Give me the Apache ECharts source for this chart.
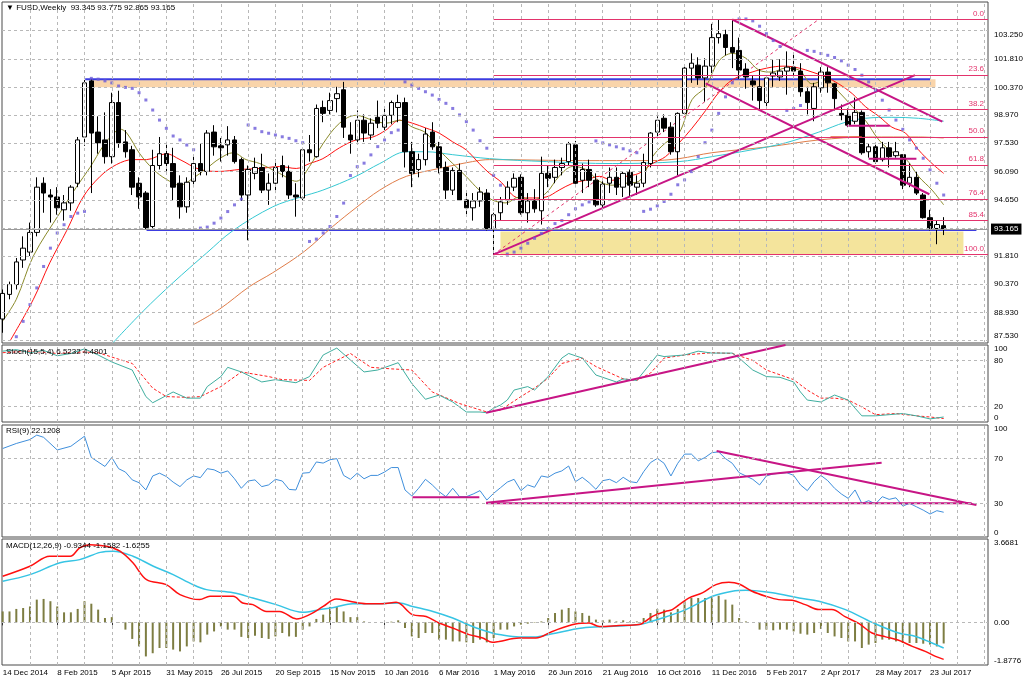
<!DOCTYPE html>
<html>
<head>
<meta charset="utf-8">
<script src="https://cdn.jsdelivr.net/npm/echarts@6/dist/echarts.min.js"></script>
<style>
html, body { margin: 0; padding: 0; background: #fff; }
#chart { width: 1024px; height: 683px; }
</style>
</head>
<body>
<div id="chart"></div>
<script>
var dom = document.getElementById('chart');
var myChart = echarts.init(dom);

var FONT = "'Liberation Sans', Arial, sans-serif";
var FS = 8;

// date labels, one every 8 weekly bars starting at bar 0
var dateLabels = ['14 Dec 2014', '8 Feb 2015', '5 Apr 2015', '31 May 2015', '26 Jul 2015', '20 Sep 2015',
    '15 Nov 2015', '10 Jan 2016', '6 Mar 2016', '1 May 2016', '26 Jun 2016', '21 Aug 2016', '16 Oct 2016',
    '11 Dec 2016', '5 Feb 2017', '2 Apr 2017', '28 May 2017', '23 Jul 2017'];

// weekly candles
var openP = [88.6, 89.85, 90.35, 91.6, 92.0, 93.0, 95.5, 94.9, 94.8, 94.15,
    94.5, 95.5, 97.85, 100.7, 98.1, 97.7, 96.85, 99.6, 97.6, 97.2,
    95.5, 95.0, 93.3, 96.4, 97.0, 96.5, 95.5, 94.3, 95.6, 96.5,
    96.1, 98.1, 97.4, 97.45, 97.7, 96.7, 94.9, 96.0, 96.3, 95.15,
    95.5, 96.4, 96.1, 94.9, 94.75, 97.2, 96.85, 99.35, 99.2, 99.8,
    100.25, 97.95, 97.7, 98.7, 97.95, 98.85, 98.35, 98.95, 99.35, 99.6,
    97.1, 96.2, 96.7, 98.1, 97.35, 96.3, 95.15, 96.15, 94.65, 94.25,
    94.6, 95.0, 93.15, 94.0, 94.65, 95.3, 95.8, 94.0, 94.6, 94.1,
    96.0, 95.8, 96.3, 96.6, 97.45, 95.65, 96.2, 95.65, 94.4, 95.5,
    95.8, 95.3, 96.05, 95.3, 95.5, 96.5, 98.1, 98.8, 98.35, 97.1,
    99.05, 101.35, 101.5, 100.85, 101.45, 102.9, 103.05, 102.4, 102.25, 101.3,
    100.7, 100.4, 99.6, 100.95, 100.9, 101.2, 101.4, 101.2, 100.15, 99.3,
    100.35, 101.15, 100.55, 99.05, 98.95, 98.65, 99.1, 97.1, 97.35, 96.7,
    97.3, 96.9, 96.95, 95.5, 95.8, 94.9, 93.75, 93.2, 93.345];
var highP = [90.1, 90.5, 91.7, 92.8, 93.5, 95.8, 95.8, 95.2, 95.3, 94.9,
    95.4, 97.85, 100.75, 100.8, 98.9, 99.1, 100.1, 100.2, 98.2, 97.4,
    95.8, 95.1, 97.2, 97.85, 97.6, 97.3, 95.9, 95.8, 96.9, 97.5,
    98.2, 98.45, 97.8, 98.4, 97.9, 96.8, 96.4, 96.8, 97.0, 96.0,
    96.7, 96.9, 96.4, 95.5, 97.3, 97.95, 99.5, 99.7, 100.1, 100.4,
    100.65, 98.6, 99.2, 99.0, 98.8, 99.7, 99.4, 99.7, 100.0, 99.85,
    97.6, 97.0, 98.3, 98.6, 97.6, 96.6, 96.3, 96.5, 95.0, 95.0,
    95.3, 95.2, 94.0, 94.8, 95.6, 96.0, 95.95, 95.0, 95.2, 96.85,
    96.4, 96.7, 96.8, 97.6, 97.65, 96.5, 96.7, 96.0, 95.6, 96.3,
    96.3, 96.1, 96.2, 95.9, 97.0, 98.1, 98.9, 99.0, 98.6, 99.1,
    101.45, 102.1, 101.9, 101.85, 103.6, 103.8, 103.3, 103.8, 102.9, 101.6,
    101.0, 101.3, 101.0, 101.8, 101.8, 102.2, 102.1, 101.6, 100.4, 100.6,
    101.4, 101.4, 100.6, 99.5, 99.3, 99.85, 99.2, 97.5, 97.5, 97.6,
    97.6, 97.6, 96.95, 96.5, 96.1, 95.0, 94.15, 93.6, 93.775];
var lowP = [87.9, 89.6, 90.1, 91.2, 91.8, 92.8, 94.0, 93.5, 93.9, 93.6,
    94.1, 95.3, 97.4, 95.0, 97.0, 96.5, 96.5, 97.3, 96.8, 94.9,
    94.2, 93.15, 93.2, 96.2, 96.0, 94.6, 93.7, 94.0, 95.3, 95.9,
    95.9, 96.9, 96.6, 96.9, 96.5, 94.6, 92.6, 95.7, 95.0, 94.4,
    95.0, 95.8, 94.7, 93.8, 94.6, 96.6, 96.8, 98.6, 99.0, 99.1,
    97.8, 97.0, 97.5, 97.6, 97.7, 98.3, 98.2, 98.5, 98.6, 96.3,
    95.3, 95.8, 96.4, 97.2, 96.0, 94.7, 94.9, 94.6, 93.9, 93.6,
    94.3, 93.1, 91.85, 93.6, 94.4, 95.1, 93.9, 93.5, 94.0, 93.4,
    95.3, 95.5, 95.9, 96.4, 95.3, 95.0, 95.3, 94.3, 94.1, 95.0,
    94.9, 94.8, 94.8, 94.9, 95.3, 96.3, 97.8, 98.1, 96.95, 95.9,
    99.0, 100.6, 100.5, 99.65, 101.1, 102.6, 102.0, 101.35, 100.8, 100.3,
    99.7, 99.2, 99.3, 100.4, 100.7, 100.0, 101.0, 99.9, 99.0, 98.65,
    100.1, 100.1, 99.2, 98.7, 98.35, 98.5, 96.95, 96.8, 96.5, 96.6,
    96.3, 96.8, 95.2, 95.3, 94.9, 93.7, 93.1, 92.4, 92.865];
var closeP = [89.9, 90.35, 91.5, 92.2, 93.0, 95.3, 95.0, 94.8, 94.25, 94.5,
    95.3, 97.7, 100.6, 98.05, 97.55, 96.85, 99.6, 97.55, 97.1, 95.3,
    94.8, 93.25, 96.4, 97.0, 96.5, 95.3, 94.3, 95.55, 96.5, 96.1,
    98.05, 97.35, 97.3, 97.7, 96.6, 94.9, 96.2, 96.3, 95.15, 95.5,
    96.3, 96.1, 94.9, 94.8, 97.2, 97.05, 99.3, 99.05, 99.7, 100.05,
    98.35, 97.7, 98.7, 98.05, 98.55, 98.55, 98.95, 99.6, 99.6, 97.1,
    96.0, 96.7, 98.0, 97.35, 96.3, 95.15, 96.15, 94.65, 94.25, 94.6,
    95.05, 93.15, 93.9, 94.55, 95.3, 95.75, 94.0, 94.6, 94.2, 96.0,
    95.75, 96.3, 96.5, 97.5, 95.5, 96.2, 95.65, 94.4, 95.45, 95.8,
    95.3, 96.0, 95.4, 95.5, 96.55, 98.05, 98.7, 98.3, 97.1, 99.05,
    101.35, 101.6, 100.85, 101.45, 102.9, 103.1, 102.4, 102.15, 101.25, 100.9,
    100.5, 99.7, 100.85, 101.1, 101.2, 101.4, 101.2, 100.15, 99.6, 100.4,
    101.15, 100.6, 99.8, 98.95, 98.45, 99.1, 97.05, 97.35, 96.6, 97.3,
    96.85, 97.1, 95.4, 95.8, 95.0, 93.75, 93.15, 93.4, 93.165];

// parabolic SAR, one dot per bar (null = off the chart)
var sar = [null, null, 87.7, 88.48, 89.33, 90.18, 91.27, 92.2, 92.97, 93.39,
    93.81, 93.98, 94.07, 100.83, 100.79, 100.7, 100.6, 100.44, 100.37, 100.32,
    100.1, 99.73, 99.22, 98.71, 98.29, 97.9, 97.7, 97.44, 97.2, 93.22,
    93.27, 93.47, 93.73, 94.06, 94.4, 94.69, 98.46, 98.29, 98.12, 98.04,
    97.95, 97.86, 97.78, 97.66, 97.56, 92.54, 92.66, 92.97, 93.3, 93.81,
    94.49, 95.89, 96.34, 96.52, 96.94, 97.36, 97.7, 98.07, 98.2, 100.65,
    100.49, 100.32, 100.15, 99.98, 99.76, 99.56, 99.3, 98.97, 98.63, 98.2,
    97.66, 97.28, 95.9, 95.4, 91.9, 92.0, 92.2, 92.45, 92.7, 92.95,
    93.2, 93.45, 93.6, 93.9, 94.2, 94.4, 94.55, 97.65, 97.55, 97.45,
    97.35, 97.25, 97.15, 97.05, 94.07, 94.18, 94.35, 94.57, 94.94, 95.42,
    95.67, 96.09, 96.85, 97.56, 98.2, 99.05, 99.89, 100.6, 103.85, 103.85,
    103.75, 103.48, 103.1, 102.75, 102.45, 99.2, 99.3, 99.45, 102.25, 102.2,
    102.09, 102.0, 101.89, 101.72, 101.5, 101.28, 100.99, 100.65, 100.23, 99.72,
    99.22, 98.71, 98.24, 97.7, 97.28, 96.77, 96.18, 95.5, 94.9];

// moving averages as [bar, price]
var maFast = [[0, 88.5], [2, 89.6], [4.5, 91.8], [8.4, 94.0], [10.8, 95.3], [12.8, 96.3], [14.75, 97.4],
    [16.2, 98.0], [17.2, 98.25], [18.2, 98.05], [20.1, 97.0], [22.1, 96.2], [24, 95.7], [26, 95.4],
    [27.9, 95.75], [29.9, 96.25], [31.8, 96.75], [33.8, 97.05], [35.7, 96.7], [37.7, 96.5], [40.6, 96.0],
    [43.06, 95.6], [45, 96.35], [46.96, 97.5], [49.4, 98.55], [51.8, 98.95], [54.3, 98.7], [56.2, 98.55],
    [58.2, 98.7], [60.1, 98.35], [62.1, 98.05], [64, 97.2], [66, 96.5], [67.95, 95.85], [69.9, 95.15],
    [71.8, 94.65], [73.8, 94.5], [75.75, 94.8], [77.7, 94.65], [79.7, 95.0], [81.6, 95.85], [83.6, 96.35],
    [85.5, 96.2], [87.5, 95.6], [89.4, 95.4], [91.4, 95.5], [93.3, 95.6], [95.3, 96.85], [97.2, 97.55],
    [99.2, 98.05], [101.1, 99.75], [103.1, 100.4], [105, 101.7], [107, 102.1], [109, 101.85], [110.9, 101.25],
    [112.8, 101.15], [114.8, 101.35], [116.8, 101.25], [118.7, 100.55], [120.7, 100.75], [122.6, 100.15],
    [124.6, 99.4], [126.5, 98.7], [128.5, 97.7], [130.4, 97.1], [132.4, 96.75], [134.3, 95.85],
    [136.3, 95.15], [138, 94.4]];
var maMid = [[1.1, 87.5], [4.5, 89.6], [6.9, 91.45], [9.4, 93.1], [11.8, 94.8], [14.3, 95.85], [16.7, 96.45],
    [19.1, 96.7], [21.1, 96.7], [24, 97.0], [26, 96.7], [28.9, 96.2], [31.8, 96.1], [34.8, 96.2],
    [37.7, 96.25], [40.6, 96.35], [43.06, 96.25], [45, 96.5], [46.96, 96.75], [49.4, 97.3], [51.8, 97.7],
    [54.3, 97.85], [56.2, 98.2], [58.2, 98.7], [60.1, 98.55], [62.1, 98.3], [64, 98.05], [66, 97.6],
    [67.95, 97.2], [69.9, 96.5], [71.4, 96.0], [72.8, 95.65], [75.75, 94.75], [77.7, 94.75], [79.7, 94.8],
    [81.6, 95.15], [83.6, 95.5], [85.5, 95.65], [87.5, 95.85], [89.4, 95.65], [91.4, 95.85], [93.3, 96.0],
    [95.3, 96.5], [97.2, 96.85], [99.2, 97.55], [101.1, 98.3], [103.1, 99.2], [105, 100.1], [107, 100.75],
    [109.9, 101.15], [112.8, 101.4], [114.8, 101.45], [116.8, 101.35], [118.7, 101.15], [120.7, 100.9],
    [122.6, 100.55], [124.6, 100.05], [126.5, 99.4], [128.5, 98.9], [130.4, 98.35], [132.4, 98.05],
    [134.3, 97.2], [136.3, 96.5], [138, 96.0]];
var maSlow = [[16.2, 87.4], [20.6, 89.0], [25, 90.45], [29.9, 91.95], [33.8, 93.1], [39.6, 94.3], [43.7, 94.8],
    [46.96, 95.15], [51.8, 95.85], [55.3, 96.5], [59.2, 97.1], [62.1, 97.1], [66, 96.95], [71.4, 96.75],
    [79.7, 96.6], [89.4, 96.5], [99.2, 96.6], [104, 96.85], [109.9, 97.2], [114.8, 97.55], [119.7, 98.1],
    [123.6, 98.6], [126.5, 98.8], [130.4, 98.85], [134.3, 98.8], [138, 98.65]];
var maLong = [[27.9, 88.3], [31.8, 89.1], [36.2, 90.25], [39.6, 90.95], [44.3, 92.05], [48.4, 93.3],
    [51.8, 94.25], [55.3, 95.15], [59.2, 95.85], [64, 96.25], [68.9, 96.6], [71.4, 96.7], [85, 96.65],
    [95, 96.65], [99.2, 96.75], [104, 97.05], [112.3, 97.35], [119.7, 97.7], [127, 97.85], [134.3, 97.85],
    [138, 97.8]];

// stochastic (15,5,4)
var stochMain = [[0, 92], [2, 94], [4, 90], [6, 93], [8, 86], [10, 89], [12, 95], [14, 87], [16, 78], [19, 67.5],
    [20, 50], [21, 33], [22, 25], [25, 39], [27, 31], [29, 31], [30, 46], [32, 59], [33, 71], [35, 65], [38, 52],
    [40, 55], [43, 51], [45, 59], [47, 87], [49, 96], [51, 80.5], [53, 65], [55, 67.5], [58, 77], [60, 50],
    [62, 29.5], [64, 35], [66, 26], [68, 13], [70, 13], [71, 12], [72, 18], [73, 22], [74, 28.5], [75, 41.5],
    [77, 46], [78, 41.5], [80, 59], [82, 83], [83, 89], [85, 83], [87, 61], [90, 52], [91, 56], [93, 54],
    [94, 65], [96, 87], [97, 85], [100, 87], [102, 92], [104, 89.5], [107, 89.5], [108, 83], [110, 67.5],
    [112, 59], [114, 58], [116, 52], [117, 39], [118, 28.5], [120, 26], [122, 35], [124, 28.5], [125, 18],
    [126, 8], [128, 8], [130, 9.5], [132, 11], [134, 8], [136, 4], [138, 6.5]];
var stochSignal = [[0, 90], [4, 92], [8, 89], [12, 91], [14, 90], [19, 76], [22, 44], [24, 33], [27, 32], [29, 33],
    [32, 46], [35, 65], [39, 59], [41, 55], [45, 54], [47, 71], [51, 89], [54, 71], [57, 69], [60, 67.5],
    [63, 39], [67, 24], [71, 13], [73, 15.5], [76, 33], [78, 44], [80, 57], [82, 76], [85, 83], [87, 72],
    [91, 56], [93, 54], [95, 63.5], [97, 83], [100, 87], [104, 90], [107, 89], [110, 80], [112, 67.5],
    [116, 55], [118, 41.5], [120, 31], [122, 31], [124, 28.5], [126, 19.5], [128, 9.5], [131, 11], [134, 8],
    [136, 6.5], [138, 4.5]];

// RSI(9)
var rsi = [[0, 79], [2, 83.5], [4, 87], [5, 91], [6, 89], [8, 77.7], [10, 81], [12, 90], [13, 71], [15, 63],
    [16, 71], [17, 61], [18, 58], [19, 51], [20, 48.5], [21, 42], [22, 54.5], [23, 57], [24, 54], [25, 49],
    [26, 45], [27, 51], [28, 54.5], [29, 53], [30, 61], [31, 60], [32, 57], [33, 59], [34, 52], [35, 43.5],
    [36, 50], [37, 51], [38, 45], [39, 46.5], [40, 51.5], [41, 50], [42, 42.5], [43, 42], [44, 57], [45, 57.5],
    [46, 67], [47, 66], [48, 69], [49, 70], [50, 55], [51, 51.5], [52, 57], [53, 52], [54, 55], [55, 55],
    [56, 58], [57, 62], [58, 62], [59, 42], [60, 36.6], [61, 43.5], [62, 51.5], [63, 46.5], [64, 40.5],
    [65, 36], [66, 43.5], [67, 36], [68, 36], [69, 38.4], [70, 41.4], [71, 33], [72, 39], [73, 44], [74, 49],
    [75, 51.5], [76, 41.4], [77, 46.5], [78, 44.4], [79, 54.5], [80, 53.3], [81, 57], [82, 59], [83, 63.4],
    [84, 49.4], [85, 53.3], [86, 48.5], [87, 42.6], [88, 50.3], [89, 51.5], [90, 48.5], [91, 53.3], [92, 49.4],
    [93, 48.5], [94, 58.3], [95, 66.4], [96, 70.2], [97, 65.8], [98, 54.5], [99, 65.8], [100, 74], [101, 74],
    [102, 68], [103, 71], [104, 75.3], [105, 76], [106, 70], [107, 65.8], [108, 57.4], [109, 54.5], [110, 51.5],
    [111, 46.5], [112, 54.5], [113, 56.3], [114, 57], [115, 57.4], [116, 55], [117, 46.5], [118, 41.4],
    [119, 49.4], [120, 55], [121, 50.3], [122, 43.5], [123, 38.4], [124, 34.5], [125, 42], [126, 30],
    [127, 32.4], [128, 29.5], [129, 36], [130, 33.6], [131, 35], [132, 27.7], [133, 30], [134, 27], [135, 24],
    [136, 20.5], [137, 23.5], [138, 22.1]];

// MACD(12,26,9)
var macdHist = [0.48, 0.48, 0.59, 0.63, 0.7, 1.0, 1.03, 0.93, 0.7, 0.44,
    0.44, 0.59, 0.93, 0.82, 0.56, 0.19, 0.23, -0.03, -0.32, -0.73,
    -1.06, -1.5, -1.36, -1.13, -1.13, -1.2, -1.28, -1.06, -0.84, -0.88,
    -0.54, -0.4, -0.18, -0.32, -0.32, -0.64, -0.69, -0.59, -0.69, -0.73,
    -0.62, -0.47, -0.62, -0.64, -0.32, -0.18, 0.15, 0.34, 0.68, 0.68,
    0.48, 0.23, 0.23, 0.04, 0, 0, 0, 0.03, 0.09, -0.25,
    -0.62, -0.69, -0.47, -0.47, -0.76, -0.76, -0.84, -0.84, -0.88, -0.91,
    -0.76, -0.88, -0.69, -0.32, -0.32, -0.18, -0.1, -0.06, -0.02, 0.04,
    0.19, 0.41, 0.56, 0.63, 0.48, 0.41, 0.29, 0.12, 0.09, 0.12,
    0.04, 0.09, 0.04, 0.04, 0.19, 0.41, 0.59, 0.56, 0.44, 0.59,
    0.93, 1.07, 1.07, 1.07, 1.15, 1.17, 1.0, 0.78, 0.19, 0.04,
    0, -0.32, -0.32, -0.35, -0.32, -0.32, -0.4, -0.5, -0.54, -0.47,
    -0.29, -0.47, -0.62, -0.69, -0.84, -0.84, -1.13, -0.98, -0.91, -0.76,
    -0.76, -0.84, -0.91, -0.91, -0.91, -0.94, -0.98, -1.06, -0.93];
var macdRed = [[0, 2.03], [4, 2.47], [6.9, 2.91], [9.9, 2.91], [11.3, 3.28], [12.8, 3.42], [15.2, 3.35],
    [17.2, 3.13], [19.1, 2.62], [21.1, 1.88], [24, 1.66], [26, 1.22], [28.9, 1.0], [30.4, 1.15], [33.8, 1.15],
    [35.2, 0.85], [36.7, 0.78], [38.7, 0.48], [40.6, 0.48], [43.1, 0.15], [45, 0.34], [47, 0.7], [48.9, 1.03],
    [50.9, 0.93], [53.3, 0.82], [55.7, 0.82], [57.7, 0.88], [60.1, 0.34], [62.1, 0.26], [64, -0.03],
    [66, -0.25], [68.4, -0.54], [70.4, -0.69], [71.8, -0.88], [72.8, -0.84], [75.75, -0.69], [78.2, -0.69],
    [80.6, -0.4], [84, -0.07], [86, -0.03], [87.5, -0.18], [90.4, -0.14], [93.3, -0.1], [95.3, 0.26],
    [97.2, 0.48], [98.2, 0.56], [100.6, 1.07], [102.6, 1.3], [104.6, 1.66], [106.5, 1.76], [108, 1.69],
    [109.9, 1.37], [111.9, 1.15], [113.8, 1.0], [115.8, 0.97], [117.7, 0.78], [119.7, 0.56], [121.6, 0.56],
    [123.6, 0.24], [125.6, -0.06], [127.5, -0.47], [129.5, -0.64], [131.4, -0.79], [133.4, -1.06],
    [135.3, -1.28], [136.8, -1.5], [138, -1.63]];
var macdCyan = [[0, 1.81], [4, 2.1], [8.4, 2.62], [11.3, 2.76], [14.3, 3.08], [16.2, 3.13], [19.1, 2.91],
    [22.1, 2.47], [25, 2.1], [27.9, 1.66], [29.9, 1.44], [33.8, 1.3], [36.7, 1.07], [40.1, 0.78], [44, 0.44],
    [46.5, 0.56], [48.9, 0.68], [51.3, 0.82], [55.3, 0.82], [58.2, 0.85], [60.1, 0.7], [63.1, 0.48],
    [66, 0.19], [68.9, -0.18], [71.8, -0.47], [72.8, -0.54], [75.75, -0.64], [78.2, -0.64], [80.6, -0.5],
    [85, -0.25], [89, -0.18], [93.3, -0.1], [96.3, 0.15], [100.2, 0.56], [104.1, 1.15], [107, 1.37],
    [109, 1.41], [112.9, 1.3], [116.8, 1.07], [119.7, 0.93], [123.6, 0.56], [127.5, 0], [131.4, -0.47],
    [133.9, -0.62], [136.3, -0.91], [138, -1.13]];

// axis tick labels
var priceTicks = [87.53, 88.93, 90.37, 91.81, 94.65, 96.09, 97.53, 98.97, 100.37, 101.81, 103.25];
var priceGridLines = [87.53, 88.93, 90.37, 91.81, 93.23, 94.65, 96.09, 97.53, 98.97, 100.37, 101.81, 103.25];
var lastPrice = 93.165;

// fibonacci retracement
var fibLevels = [0, 23.6, 38.2, 50, 61.8, 76.4, 85.4, 100];
var fibHigh = 103.82, fibLow = 91.87, fibStart = 72;

// drawn objects on the price chart, [bar, price]
var supportLine = [[71.95, 91.87], [133.8, 100.99]];
var channelTop = [[107, 103.82], [137.8, 98.63]];
var channelBottom = [[103.1, 100.57], [135.9, 94.94]];
var fibTrend = [[71.95, 91.87], [119.7, 103.83]];
var shortLine1 = [[123.8, 98.42], [130.1, 98.42]];
var shortLine2 = [[127, 96.75], [134, 96.75]];
var shortLine3 = [[121.4, 97.86], [126, 97.86]];
var blueTop = [[12.1, 100.79], [136, 100.79]];
var blueBottom = [[21.1, 93.12], [142.8, 93.12]];
var peachZone = [[13.2, 100.79], [136.8, 100.38]];
var yellowZone = [[73, 93.05], [140.9, 91.87]];
// drawn objects on the oscillators, [bar, value]
var stochLine = [[70.9, 12], [114.8, 100]];
var rsiFlat1 = [[60.1, 35.4], [69.9, 35.4]];
var rsiFlat2 = [[70.9, 30.1], [142.1, 30.1]];
var rsiRise = [[70.9, 30.6], [128.9, 66.3]];
var rsiFall = [[104.7, 76.8], [142.8, 28.6]];

var XMIN = -0.1, XMAX = 144.5;
var PINK = '#c71585';
var FIB = '#e3336c';

var candles = openP.map(function (o, i) {
    return [i, o, closeP[i], lowP[i], highP[i]];
});
var sarDots = [];
sar.forEach(function (v, i) { if (v !== null) sarDots.push([i, v]); });
var histData = macdHist.map(function (v, i) { return [i, v]; });
var labelBars = dateLabels.map(function (d, i) { return i * 8; });

function vGrid() {
    var d = [];
    for (var k = 4; k <= 144; k += 4) d.push({xAxis: k});
    return d;
}

function gridSeries(idx, hVals) {
    return {
        type: 'line', xAxisIndex: idx, yAxisIndex: idx, data: [], silent: true, z: 1,
        markLine: {
            silent: true, symbol: 'none', animation: false,
            label: {show: false},
            lineStyle: {color: '#b8b8b8', type: [3, 3], width: 1},
            data: vGrid().concat(hVals.map(function (v) { return {yAxis: v}; }))
        }
    };
}

function seg(idx, pts, color, width, type, z) {
    return {
        type: 'line', xAxisIndex: idx, yAxisIndex: idx, data: pts, silent: true,
        showSymbol: false, symbol: 'none', z: z || 4,
        lineStyle: {color: color, width: width, type: type || 'solid'}
    };
}

function curve(idx, pts, color, width, type, smooth) {
    return {
        type: 'line', xAxisIndex: idx, yAxisIndex: idx, data: pts, silent: true,
        showSymbol: false, symbol: 'none', smooth: smooth ? 0.35 : false, z: 3,
        lineStyle: {color: color, width: width, type: type || 'solid'}
    };
}

var fibMarks = fibLevels.map(function (lvl) {
    var p = fibHigh - lvl / 100 * (fibHigh - fibLow);
    return [{coord: [fibStart, p], label: {formatter: lvl.toFixed(1)}}, {coord: [XMAX, p]}];
});

var gridBase = {show: true, borderColor: '#4a4a4a', borderWidth: 1, backgroundColor: '#fff', outerBoundsMode: 'none'};
function mkGrid(top, height) {
    return Object.assign({left: 2, right: 36, top: top, height: height}, gridBase);
}

function mkX(idx, showLabel) {
    return {
        type: 'value', gridIndex: idx, min: XMIN, max: XMAX,
        axisLine: {show: false}, splitLine: {show: false},
        axisTick: showLabel ? {
            show: true, customValues: labelBars, length: 3, inside: false,
            lineStyle: {color: '#333', width: 1}
        } : {show: false},
        axisLabel: showLabel ? {
            show: true, customValues: labelBars,
            formatter: function (v) { return dateLabels[Math.round(v / 8)] || ''; },
            showMinLabel: true, showMaxLabel: true, hideOverlap: false,
            align: 'left', margin: 4, color: '#000', fontSize: FS, fontFamily: FONT
        } : {show: false}
    };
}

function mkY(idx, min, max, ticks, fmt) {
    return {
        type: 'value', gridIndex: idx, min: min, max: max, position: 'right',
        axisLine: {show: false}, axisTick: {show: false}, splitLine: {show: false},
        axisLabel: {
            show: true, customValues: ticks, formatter: fmt, margin: 6,
            showMinLabel: true, showMaxLabel: true,
            color: '#000', fontSize: FS, fontFamily: FONT,
            verticalAlignMinLabel: 'bottom', verticalAlignMaxLabel: 'top'
        }
    };
}

var titleStyle = {fontSize: FS, fontWeight: 'normal', color: '#000', fontFamily: FONT};

option = {
    backgroundColor: '#fff',
    animation: false,
    title: [
        {text: '\u25BC FUSD,Weekly  93.345 93.775 92.865 93.165', left: 6, top: 4, padding: 0, textStyle: titleStyle},
        {text: 'Stoch(15,5,4) 6.5232 4.4801', left: 6, top: 348, padding: 0, textStyle: titleStyle},
        {text: 'RSI(9) 22.1208', left: 6, top: 427, padding: 0, textStyle: titleStyle},
        {text: 'MACD(12,26,9) -0.9344 -1.1582 -1.6255', left: 6, top: 542, padding: 0, textStyle: titleStyle}
    ],
    grid: [mkGrid(2, 341), mkGrid(345, 77), mkGrid(425, 112), mkGrid(539, 126)],
    xAxis: [mkX(0, false), mkX(1, false), mkX(2, false), mkX(3, true)],
    yAxis: [
        mkY(0, 87.38, 104.71, priceTicks, function (v) { return v.toFixed(3); }),
        mkY(1, 0, 100, [0, 20, 80, 100], function (v) { return String(v); }),
        mkY(2, 0, 100, [0, 30, 70, 100], function (v) { return String(v); }),
        mkY(3, -1.8776, 3.6681, [-1.8776, 0, 3.6681], function (v) { return v === 0 ? '0.00' : v.toFixed(4); })
    ],
    series: [
        // zones
        {
            type: 'line', xAxisIndex: 0, yAxisIndex: 0, data: [], silent: true, z: 0,
            markArea: {
                silent: true,
                data: [
                    [{coord: peachZone[0], itemStyle: {color: '#f9d4aa'}}, {coord: peachZone[1]}],
                    [{coord: yellowZone[0], itemStyle: {color: '#f4e49c'}}, {coord: yellowZone[1]}]
                ]
            }
        },
        gridSeries(0, priceGridLines),
        gridSeries(1, [20, 80]),
        gridSeries(2, [30, 70]),
        gridSeries(3, [0]),
        // bid line with price box
        {
            type: 'line', xAxisIndex: 0, yAxisIndex: 0, data: [], silent: true, z: 2,
            markLine: {
                silent: true, symbol: 'none', animation: false,
                lineStyle: {color: '#9a9a9a', type: 'solid', width: 1},
                label: {
                    show: true, position: 'end', formatter: lastPrice.toFixed(3), distance: 3,
                    backgroundColor: '#000', color: '#fff', padding: [2, 3, 1, 3],
                    fontSize: FS, fontFamily: FONT
                },
                data: [{yAxis: lastPrice}]
            }
        },
        // fibonacci
        {
            type: 'line', xAxisIndex: 0, yAxisIndex: 0, data: [], silent: true, z: 2,
            markLine: {
                silent: true, symbol: 'none', animation: false,
                lineStyle: {color: FIB, type: 'solid', width: 1},
                label: {show: true, position: 'insideEndTop', distance: [4, 2], color: FIB, fontSize: FS, fontFamily: FONT},
                data: fibMarks
            }
        },
        seg(0, fibTrend, FIB, 1, [3, 3], 2),
        seg(0, blueTop, '#3c3ce0', 2, 'solid', 2),
        seg(0, blueBottom, '#3c3ce0', 2, 'solid', 2),
        // moving averages
        curve(0, maLong, '#e07c48', 1, 'solid', true),
        curve(0, maSlow, '#35c8d2', 1, 'solid', true),
        curve(0, maMid, '#ff1010', 1, 'solid', true),
        curve(0, maFast, '#8a8a2a', 1, 'solid', true),
        // candles
        {
            type: 'candlestick', xAxisIndex: 0, yAxisIndex: 0, data: candles, silent: true, z: 3,
            encode: {x: 0, y: [1, 2, 3, 4]},
            barWidth: 5,
            itemStyle: {color: '#fff', color0: '#000', borderColor: '#000', borderColor0: '#000', borderWidth: 1}
        },
        // parabolic SAR
        {
            type: 'scatter', xAxisIndex: 0, yAxisIndex: 0, data: sarDots, silent: true, z: 4,
            symbol: 'rect', symbolSize: 3, itemStyle: {color: '#6a5ad8'}
        },
        // trend lines
        seg(0, supportLine, PINK, 2),
        seg(0, channelTop, PINK, 2),
        seg(0, channelBottom, PINK, 2),
        seg(0, shortLine1, PINK, 2),
        seg(0, shortLine2, PINK, 2),
        seg(0, shortLine3, '#e8502a', 1),
        // stochastic
        curve(1, stochSignal, '#ff2020', 1, [3, 2], false),
        curve(1, stochMain, '#3fae9f', 1, 'solid', false),
        seg(1, stochLine, PINK, 2),
        // RSI
        curve(2, rsi, '#3f8fdc', 1, 'solid', false),
        seg(2, rsiFlat1, PINK, 2),
        seg(2, rsiFlat2, PINK, 2),
        seg(2, rsiRise, PINK, 2),
        seg(2, rsiFall, PINK, 2),
        // MACD
        {
            type: 'bar', xAxisIndex: 3, yAxisIndex: 3, data: histData, silent: true, z: 2,
            barWidth: 2, itemStyle: {color: '#7d7d42'}
        },
        curve(3, macdCyan, '#36c4e4', 1.5, 'solid', true),
        curve(3, macdRed, '#ff1010', 1.5, 'solid', true)
    ]
};

if (option && typeof option === 'object') {
    myChart.setOption(option, true);
}
</script>
</body>
</html>
